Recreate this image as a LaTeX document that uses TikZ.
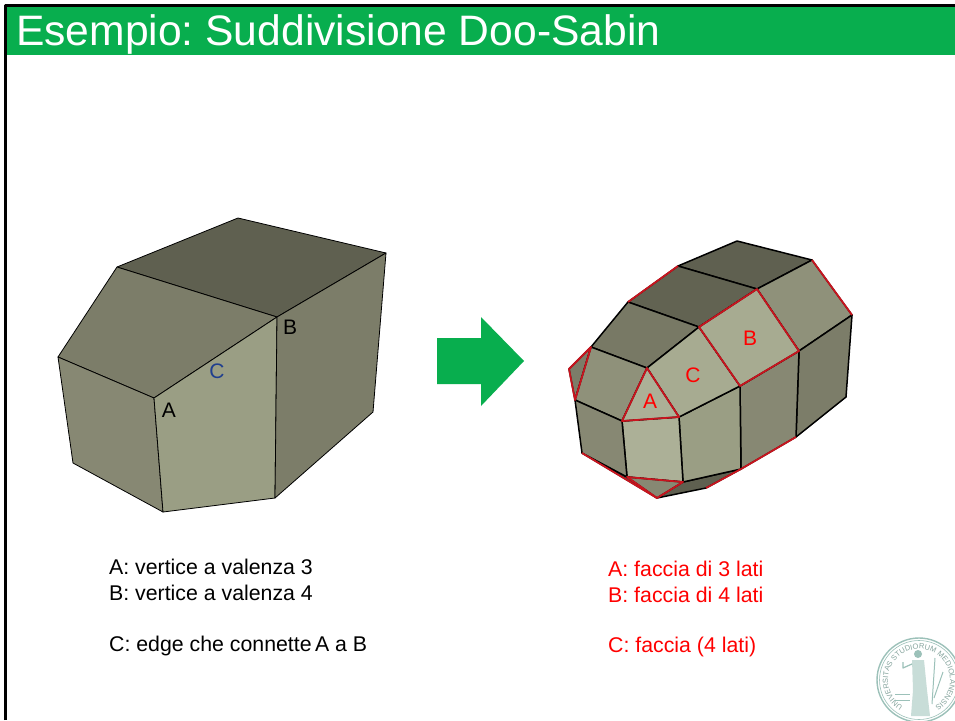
\documentclass[tikz,border=0pt]{standalone}
\usepackage{fontspec}
\setmainfont{Liberation Sans}
\usetikzlibrary{decorations.text}
\definecolor{titlegreen}{HTML}{08AE4E}
\definecolor{facedark}{HTML}{5F6050}
\definecolor{facemid}{HTML}{7C7D69}
\definecolor{facelow}{HTML}{878873}
\definecolor{facelight}{HTML}{9A9E84}
\definecolor{facepale}{HTML}{ACB097}
\definecolor{sealteal}{HTML}{9CC1B9}
\definecolor{letterblue}{HTML}{1F3F8F}
\definecolor{edgered}{HTML}{C8141E}
\frenchspacing
\begin{document}
\begin{tikzpicture}[x=1pt,y=-1pt,line join=round]
    \tikzstyle{face}=[draw=black,line width=0.8pt]
    \tikzstyle{rface}=[draw=black,line width=1.5pt]
    \tikzstyle{redge}=[draw=edgered,line width=1.8pt]
    \tikzstyle{label}=[inner sep=0pt,anchor=base,font=\fontsize{21}{24}\selectfont]
    \tikzstyle{note}=[inner sep=0pt,anchor=base west,font=\fontsize{21.3}{24}\selectfont]
    \useasboundingbox (0,0) rectangle (955,720);
    \fill[white] (0,0) rectangle (955,720);
    % slide frame and title
    \draw[black,line width=3pt] (5.5,720) -- (5.5,5.5) -- (955,5.5);
    \fill[titlegreen] (7,7) rectangle (955,55);
    \node (title) [inner sep=0pt,anchor=base west,text=white,font=\fontsize{42.6}{48}\selectfont] at (16,45) {Esempio: Suddivisione Doo-Sabin};
    % solid on the left
    \coordinate (la) at (238,218);
    \coordinate (lb) at (386,253);
    \coordinate (lc) at (277,317);
    \coordinate (ld) at (117,267);
    \coordinate (le) at (58,357);
    \coordinate (lf) at (154,398);
    \coordinate (lg) at (73,463);
    \coordinate (lh) at (163,512);
    \coordinate (li) at (275,498);
    \coordinate (lj) at (373,412);
    \filldraw[face,fill=facedark] (la) -- (lb) -- (lc) -- (ld) -- cycle;
    \filldraw[face,fill=facemid] (ld) -- (lc) -- (lf) -- (le) -- cycle;
    \filldraw[face,fill=facelow] (le) -- (lf) -- (lh) -- (lg) -- cycle;
    \filldraw[face,fill=facelight] (lf) -- (lc) -- (li) -- (lh) -- cycle;
    \filldraw[face,fill=facemid] (lc) -- (lb) -- (lj) -- (li) -- cycle;
    \node (la1) [label] at (169,417) {A};
    \node (lb1) [label] at (290,334) {B};
    \node (lc1) [label,text=letterblue] at (217,378) {C};
    % arrow between the solids
    \fill[titlegreen] (437,338) -- (481,338) -- (481,317) -- (524,361) -- (481,406) -- (481,384) -- (437,384) -- cycle;
    % subdivided solid on the right
    \coordinate (r1) at (737,241);
    \coordinate (r2) at (812,260);
    \coordinate (r3) at (757,289);
    \coordinate (r4) at (678,266);
    \coordinate (r5) at (699,327);
    \coordinate (r6) at (628,302);
    \coordinate (r7) at (647,368);
    \coordinate (r8) at (591,347);
    \coordinate (r9) at (622,421);
    \coordinate (r10) at (575,400);
    \coordinate (r11) at (679,417);
    \coordinate (r12) at (740,386);
    \coordinate (r13) at (799,351);
    \coordinate (r14) at (852,315);
    \coordinate (r15) at (846,397);
    \coordinate (r16) at (796,437);
    \coordinate (r17) at (741,469);
    \coordinate (r18) at (683,482);
    \coordinate (r19) at (627,477);
    \coordinate (r20) at (582,453);
    \coordinate (r21) at (569,369);
    \coordinate (r22) at (657,498);
    \coordinate (r23) at (706,488);
    \filldraw[rface,fill=facedark] (r20) -- (r19) -- (r18) -- (r17) -- (r23) -- (r22) -- cycle;
    \filldraw[rface,fill=facemid] (r21) -- (r8) -- (r10) -- cycle;
    \filldraw[rface,fill=facedark] (r1) -- (r2) -- (r3) -- (r4) -- cycle;
    \filldraw[rface,fill=facedark!90!facemid] (r4) -- (r3) -- (r5) -- (r6) -- cycle;
    \filldraw[rface,fill=facemid!85!facedark] (r6) -- (r5) -- (r7) -- (r8) -- cycle;
    \filldraw[rface,fill=facelow!60!facelight] (r8) -- (r7) -- (r9) -- (r10) -- cycle;
    \filldraw[rface,fill=facelow!60!facelight] (r3) -- (r2) -- (r14) -- (r13) -- cycle;
    \filldraw[rface,fill=facemid] (r13) -- (r14) -- (r15) -- (r16) -- cycle;
    \filldraw[rface,fill=facelow] (r12) -- (r13) -- (r16) -- (r17) -- cycle;
    \filldraw[rface,fill=facelight] (r11) -- (r12) -- (r17) -- (r18) -- cycle;
    \filldraw[rface,fill=facepale] (r9) -- (r11) -- (r18) -- (r19) -- cycle;
    \filldraw[rface,fill=facelow] (r10) -- (r9) -- (r19) -- (r20) -- cycle;
    \filldraw[rface,fill=facelow] (r19) -- (r18) -- (r22) -- cycle;
    \filldraw[rface,fill=facepale!70!facelight] (r7) -- (r5) -- (r12) -- (r11) -- cycle;
    \filldraw[rface,fill=facepale!70!facelight] (r5) -- (r3) -- (r13) -- (r12) -- cycle;
    \filldraw[rface,fill=facepale] (r7) -- (r11) -- (r9) -- cycle;
    % red outlines of the new faces
    \draw[redge] (r7) -- (r11) -- (r9) -- cycle;
    \draw[redge] (r5) -- (r3) -- (r13) -- (r12) -- cycle;
    \draw[redge] (r8) -- (r21) -- (r10) -- cycle;
    \draw[redge] (r19) -- (r18) -- (r22) -- cycle;
    \draw[redge] (r2) -- (r14);
    \draw[redge] (r4) -- (r6);
    \draw[redge] (r20) -- (r22);
    \draw[redge] (r23) -- (r17) -- (r16);
    \node (ra1) [label,text=red] at (650,408) {A};
    \node (rb1) [label,text=red] at (750,345) {B};
    \node (rc1) [label,text=red] at (693,382) {C};
    % captions
    \node (note1) [note] at (109,574) {A: vertice a valenza 3};
    \node (note2) [note] at (109,600) {B: vertice a valenza 4};
    \node (note3) [note] at (109,651) {C: edge che connette\kern-2.5pt{} A a B};
    \node (note4) [note,text=red] at (608,576) {A: faccia di 3 lati};
    \node (note5) [note,text=red] at (608,602) {B: faccia di 4 lati};
    \node (note6) [note,text=red] at (608,652) {C: faccia (4 lati)};
    % university seal
    \coordinate (seal) at (919,680);
    \draw[sealteal,line width=1.4pt] (seal) circle [radius=42];
    \draw[sealteal,line width=0.6pt] (seal) circle [radius=39.5];
    \path[decorate,decoration={text along path,text align=center,text={|\fontsize{7.5}{8}\selectfont\color{sealteal!85!black}|UNIVERSITAS STUDIORUM MEDIOLANENSIS}}]
      (919,711) arc [start angle=90,end angle=450,radius=31];
    \fill[sealteal] (918,654) circle [radius=4];
    \fill[sealteal!55] (912,660) -- (924,660) -- (927,690) -- (930,716) -- (911,716) -- (913,690) -- cycle;
    \draw[sealteal,line width=1.2pt] (912,664) -- (903,668) -- (903,662);
    \draw[sealteal,line width=1pt] (935,658) -- (932,704);
    \draw[sealteal,line width=1pt] (943,672) -- (934,698);
    \draw[sealteal,line width=0.8pt] (895,694) -- (910,694) (895,700) -- (910,700);
  \end{tikzpicture}
\end{document}
